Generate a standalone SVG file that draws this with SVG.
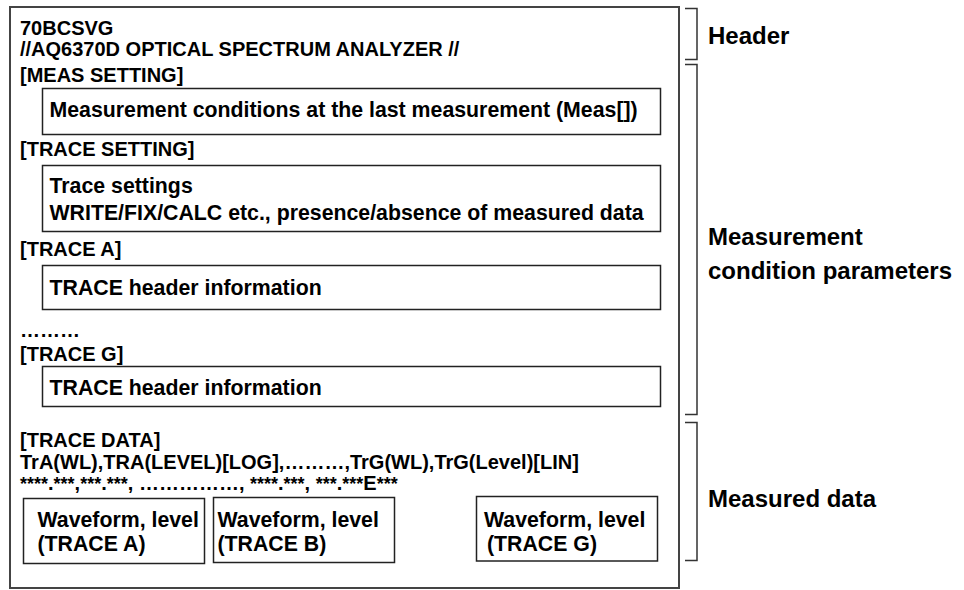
<svg xmlns="http://www.w3.org/2000/svg" width="964" height="590" viewBox="0 0 964 590">
<style>
text{font-family:"Liberation Sans",Arial,sans-serif;font-weight:bold;fill:#000;font-size:20px}
.lbl{font-size:24px}
.bt{font-size:21.3px}
.box{fill:#fff;stroke:#222;stroke-width:1.5}
.outer{fill:#fff;stroke:#444;stroke-width:2}
.br{fill:none;stroke:#333;stroke-width:1.5}
.ast{font-size:18px}
</style>
<rect width="964" height="590" fill="#fff"/>
<g id="file">
<rect class="outer" x="10" y="7" width="669" height="581"/>
<text x="20" y="35">70BCSVG</text>
<text x="20" y="56">//AQ6370D OPTICAL SPECTRUM ANALYZER //</text>
<text x="20" y="82">[MEAS SETTING]</text>
<text x="20" y="156">[TRACE SETTING]</text>
<text x="20" y="256">[TRACE A]</text>
<text x="20" y="337">………</text>
<text x="20" y="361">[TRACE G]</text>
<text x="20" y="447">[TRACE DATA]</text>
<text x="20" y="469">TrA(WL),TRA(LEVEL)[LOG],………,TrG(WL),TrG(Level)[LIN]</text>
<text x="20" y="490"><tspan class="ast">****</tspan>.<tspan class="ast">***</tspan>,<tspan class="ast">***</tspan>.<tspan class="ast">***</tspan>, ……………, <tspan class="ast">****</tspan>.<tspan class="ast">***</tspan>, <tspan class="ast">***</tspan>.<tspan class="ast">***</tspan>E<tspan class="ast">***</tspan></text>
</g>
<g id="meas">
<rect class="box" x="42.5" y="88.5" width="618" height="46"/>
<text class="bt" x="49.5" y="117">Measurement conditions at the last measurement (Meas[])</text>
</g>
<g id="trace-setting">
<rect class="box" x="42.5" y="165.5" width="618" height="66"/>
<text class="bt" x="49.5" y="193">Trace settings</text>
<text class="bt" x="49.5" y="220">WRITE/FIX/CALC etc., presence/absence of measured data</text>
</g>
<g id="trace-a">
<rect class="box" x="42.5" y="265.5" width="618" height="44"/>
<text class="bt" x="49.5" y="295">TRACE header information</text>
</g>
<g id="trace-g">
<rect class="box" x="42.5" y="366.5" width="618" height="40"/>
<text class="bt" x="49.5" y="395">TRACE header information</text>
</g>
<g id="wave-a">
<rect class="box" x="23.5" y="498.5" width="181" height="65"/>
<text class="bt" x="37.5" y="526.5">Waveform, level</text>
<text class="bt" x="37.5" y="551">(TRACE A)</text>
</g>
<g id="wave-b">
<rect class="box" x="213.5" y="497.5" width="181" height="65"/>
<text class="bt" x="217.5" y="526.5">Waveform, level</text>
<text class="bt" x="217.5" y="551">(TRACE B)</text>
</g>
<g id="wave-g">
<rect class="box" x="476.5" y="496.5" width="181" height="64.5"/>
<text class="bt" x="484" y="526.5">Waveform, level</text>
<text class="bt" x="487" y="551">(TRACE G)</text>
</g>
<g id="brackets">
<path class="br" d="M685 8.5H697V59.5H685"/>
<path class="br" d="M685 64.5H697V414.5H685"/>
<path class="br" d="M685 422.5H697V560.5H685"/>
</g>
<g id="labels">
<text class="lbl" x="708" y="44">Header</text>
<text class="lbl" x="708" y="245">Measurement</text>
<text class="lbl" x="708" y="279">condition parameters</text>
<text class="lbl" x="708" y="507">Measured data</text>
</g>
</svg>
